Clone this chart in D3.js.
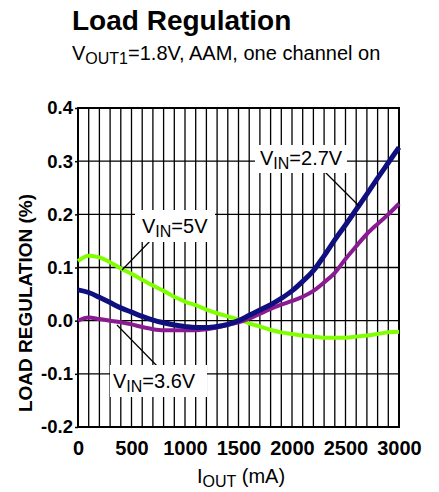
<!DOCTYPE html>
<html><head><meta charset="utf-8">
<script src="https://cdn.jsdelivr.net/npm/d3@7"></script>
<style>
html,body{margin:0;padding:0;background:#fff;}
svg{display:block;font-family:"Liberation Sans",Arial,sans-serif;}
</style></head>
<body><svg id="c" width="439" height="492"></svg>
<script>
// ---- data ----
const iout = [0,100,200,300,400,500,600,700,800,900,1000,1100,1200,1300,1400,1500,1600,1700,1800,1900,2000,2100,2200,2300,2400,2500,2600,2700,2800,2900,3000];
const vin5   = [0.112,0.122,0.119,0.110,0.098,0.088,0.077,0.066,0.056,0.045,0.036,0.029,0.021,0.014,0.008,0.002,-0.005,-0.011,-0.017,-0.022,-0.025,-0.028,-0.030,-0.032,-0.032,-0.032,-0.030,-0.028,-0.025,-0.022,-0.021];
const vin27  = [0.058,0.053,0.044,0.034,0.024,0.016,0.008,0.001,-0.004,-0.008,-0.011,-0.013,-0.013,-0.011,-0.007,0.000,0.010,0.020,0.030,0.042,0.056,0.074,0.094,0.122,0.152,0.180,0.209,0.238,0.268,0.297,0.326];
const vin36  = [0.000,0.006,0.003,0.000,-0.003,-0.007,-0.012,-0.016,-0.018,-0.018,-0.018,-0.018,-0.016,-0.013,-0.008,-0.003,0.004,0.013,0.022,0.030,0.037,0.045,0.056,0.072,0.090,0.116,0.140,0.163,0.182,0.200,0.220];
const xTicks = [0,500,1000,1500,2000,2500,3000];
const xTickLabels = ["0","500","1000","1500","2000","2500","3000"];
const yTicks = [-0.2,-0.1,0.0,0.1,0.2,0.3,0.4];
const yTickLabels = ["-0.2","-0.1","0.0","0.1","0.2","0.3","0.4"];
const seriesNames = ["5V","2.7V","3.6V"];

// ---- layout ----
const L=78, R=399, T=108, B=427;
const svg = d3.select("#c");
const x = d3.scaleLinear().domain([0,3000]).range([L,R]);
const y = d3.scaleLinear().domain([-0.2,0.4]).range([B,T]);

// grid
const g = svg.append("g");
g.selectAll("line.v").data(d3.range(100,3000,100)).enter().append("line")
  .attr("x1",d=>x(d)).attr("x2",d=>x(d)).attr("y1",T).attr("y2",B)
  .attr("stroke","#000").attr("stroke-width",1.3);
g.selectAll("line.h").data(yTicks.slice(1,-1)).enter().append("line")
  .attr("x1",L).attr("x2",R).attr("y1",d=>y(d)).attr("y2",d=>y(d))
  .attr("stroke","#000").attr("stroke-width",1.3);

// frame
svg.append("rect").attr("x",L).attr("y",T).attr("width",R-L).attr("height",B-T)
  .attr("fill","none").attr("stroke","#000").attr("stroke-width",2);

// axes
const ya = svg.append("g").attr("transform",`translate(${L},0)`)
  .call(d3.axisLeft(y).tickValues(yTicks).tickSize(3).tickPadding(2).tickFormat((d,i)=>yTickLabels[i]));
ya.select(".domain").remove();
ya.selectAll("line").attr("stroke-width",1.5);
ya.selectAll("text").attr("font-size",18.5).attr("font-weight","bold").attr("fill","#000")
  .attr("font-family","'Liberation Sans',Arial,sans-serif");

const xa = svg.append("g").attr("transform",`translate(0,${B})`)
  .call(d3.axisBottom(x).tickValues(xTicks).tickSize(0).tickPadding(0).tickFormat((d,i)=>xTickLabels[i]));
xa.select(".domain").remove();
xa.selectAll("text").attr("font-size",20).attr("font-weight","bold").attr("fill","#000")
  .attr("dy",null).attr("y",28)
  .attr("font-family","'Liberation Sans',Arial,sans-serif");

// curves
const line = d3.line().x((d,i)=>x(iout[i])).y(d=>y(d)).curve(d3.curveMonotoneX);
const plot = svg.append("g");
plot.append("path").datum(vin5).attr("d",line).attr("fill","none").attr("stroke","#80ff00").attr("stroke-width",4).attr("stroke-linejoin","round");
plot.append("path").datum(vin36).attr("d",line).attr("fill","none").attr("stroke","#8a1a92").attr("stroke-width",4).attr("stroke-linejoin","round");
plot.append("path").datum(vin27).attr("d",line).attr("fill","none").attr("stroke","#0f0f80").attr("stroke-width",5).attr("stroke-linejoin","round");

// annotations
function label(bx,by,bw,bh,tx,ty,name,lx1,ly1,lx2,ly2){
  svg.append("line").attr("x1",lx1).attr("y1",ly1).attr("x2",lx2).attr("y2",ly2).attr("stroke","#000").attr("stroke-width",1.2);
  svg.append("rect").attr("x",bx).attr("y",by).attr("width",bw).attr("height",bh).attr("fill","#fff");
  const t = svg.append("text").attr("x",tx).attr("y",ty).attr("font-size",20).attr("fill","#000");
  t.append("tspan").text("V");
  t.append("tspan").attr("font-size",16).attr("dy",4).text("IN");
  t.append("tspan").attr("dy",-4).text("="+name);
}
label(135,210,80,32,142,233,seriesNames[0],153,238,122,270);
label(255,145,92,28,260,165,seriesNames[1],318,165,359,206);
label(110,365,97,32,113,388,seriesNames[2],160,369,117,325);

// titles
svg.append("text").attr("x",72).attr("y",30).attr("font-size",28).attr("font-weight","bold").text("Load Regulation");
const st = svg.append("text").attr("x",72).attr("y",60).attr("font-size",20);
st.append("tspan").text("V");
st.append("tspan").attr("font-size",16).attr("dy",4).text("OUT1");
st.append("tspan").attr("dy",-4).text("=1.8V, AAM, one channel on");

// axis titles
svg.append("text").attr("transform","translate(32,303) rotate(-90)").attr("text-anchor","middle")
  .attr("font-size",19).attr("font-weight","bold").text("LOAD REGULATION (%)");
const xt = svg.append("text").attr("x",241).attr("y",483).attr("text-anchor","middle").attr("font-size",20);
xt.append("tspan").text("I");
xt.append("tspan").attr("font-size",16).attr("dy",4).text("OUT");
xt.append("tspan").attr("dy",-4).text(" (mA)");
</script></body></html>
